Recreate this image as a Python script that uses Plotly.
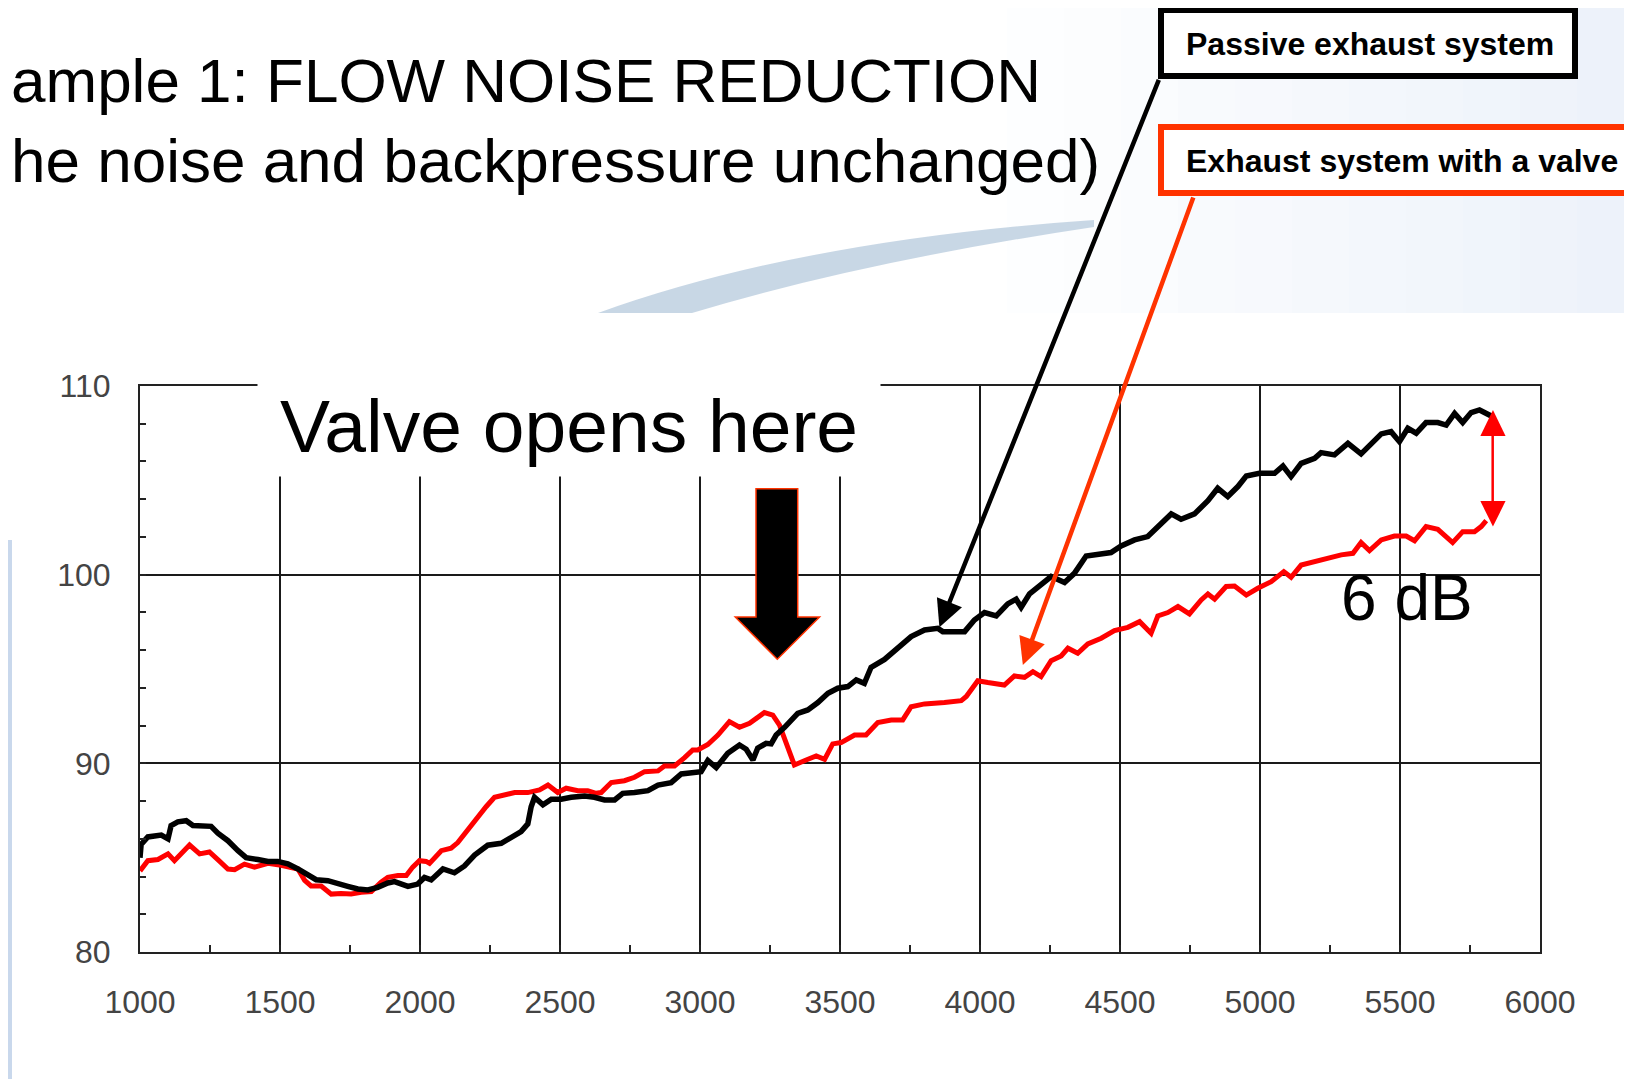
import plotly.graph_objects as go

# Passive exhaust system (black) - rpm / dB
black_rpm = [1000, 1004, 1028, 1076, 1100, 1111, 1135, 1165, 1189, 1254, 1278, 1314, 1350, 1379,
             1421, 1457, 1492, 1528, 1564, 1599, 1629, 1671, 1707, 1742, 1778, 1814, 1849, 1885,
             1909, 1933, 1957, 1992, 2016, 2040, 2082, 2123, 2159, 2195, 2242, 2290, 2326, 2361,
             2385, 2397, 2409, 2439, 2469, 2504, 2540, 2588, 2623, 2659, 2695, 2724, 2766, 2814,
             2850, 2897, 2933, 2980, 3004, 3028, 3058, 3099, 3141, 3165, 3189, 3206, 3236, 3254,
             3272, 3302, 3349, 3385, 3421, 3457, 3492, 3528, 3558, 3587, 3611, 3659, 3707, 3754,
             3802, 3849, 3867, 3945, 3980, 4016, 4058, 4099, 4129, 4147, 4177, 4218, 4254, 4302,
             4337, 4379, 4421, 4468, 4504, 4552, 4599, 4635, 4683, 4718, 4766, 4814, 4849, 4885,
             4921, 4951, 4998, 5052, 5082, 5111, 5147, 5195, 5218, 5266, 5314, 5361, 5397, 5433,
             5468, 5498, 5528, 5558, 5593, 5635, 5665, 5695, 5724, 5754, 5784, 5814, 5826]
black_db = [85.0, 85.7, 86.1, 86.2, 86.0, 86.7, 86.9, 86.96, 86.7, 86.66, 86.3, 85.9, 85.37, 85.0,
            84.9, 84.8, 84.8, 84.67, 84.4, 84.05, 83.83, 83.78, 83.6, 83.48, 83.34, 83.29, 83.43, 83.66,
            83.73, 83.6, 83.48, 83.6, 83.95, 83.82, 84.4, 84.2, 84.56, 85.14, 85.66, 85.76, 86.1, 86.38,
            86.79, 87.7, 88.2, 87.8, 88.1, 88.1, 88.2, 88.27, 88.2, 88.06, 88.06, 88.41, 88.45, 88.55,
            88.85, 88.98, 89.44, 89.51, 89.56, 90.15, 89.77, 90.53, 90.97, 90.75, 90.18, 90.8, 91.06, 91.03,
            91.5, 91.91, 92.65, 92.83, 93.22, 93.71, 93.98, 94.07, 94.42, 94.24, 95.09, 95.51, 96.15, 96.72,
            97.07, 97.16, 96.98, 96.98, 97.6, 97.99, 97.81, 98.45, 98.7, 98.27, 98.98, 99.45, 99.9, 99.58,
            100.07, 100.99, 101.1, 101.17, 101.52, 101.84, 102.02, 102.55, 103.22, 102.94, 103.22, 103.92, 104.58, 104.14,
            104.67, 105.23, 105.37, 105.37, 105.76, 105.2, 105.9, 106.17, 106.47, 106.35, 106.96, 106.4, 106.96, 107.46,
            107.58, 107.05, 107.76, 107.5, 108.06, 108.06, 107.93, 108.55, 108.06, 108.59, 108.73, 108.55, 108.41]

# Exhaust system with a valve (red)
red_rpm = [1000, 1028, 1064, 1100, 1123, 1153, 1177, 1213, 1248, 1278, 1314, 1338, 1373, 1409,
           1457, 1504, 1540, 1564, 1588, 1611, 1647, 1683, 1718, 1754, 1790, 1826, 1861, 1885,
           1921, 1951, 1974, 1998, 2022, 2034, 2076, 2111, 2135, 2171, 2201, 2236, 2266, 2302,
           2338, 2385, 2427, 2457, 2492, 2522, 2564, 2599, 2629, 2647, 2683, 2730, 2766, 2802,
           2850, 2873, 2909, 2945, 2974, 2992, 3028, 3064, 3105, 3141, 3177, 3230, 3260, 3284,
           3308, 3337, 3379, 3415, 3445, 3474, 3504, 3552, 3593, 3635, 3683, 3724, 3754, 3802,
           3873, 3933, 3951, 3992, 4028, 4087, 4123, 4159, 4189, 4218, 4254, 4290, 4314, 4349,
           4385, 4433, 4480, 4528, 4570, 4611, 4635, 4671, 4707, 4748, 4790, 4814, 4838, 4879,
           4909, 4951, 4992, 5040, 5085, 5111, 5147, 5195, 5242, 5290, 5332, 5361, 5391, 5433,
           5480, 5522, 5552, 5593, 5635, 5688, 5724, 5766, 5790, 5808]
red_db = [84.3, 84.84, 84.9, 85.2, 84.84, 85.3, 85.67, 85.2, 85.3, 84.9, 84.4, 84.36, 84.66, 84.5,
          84.7, 84.6, 84.5, 84.4, 83.8, 83.5, 83.5, 83.07, 83.1, 83.07, 83.16, 83.2, 83.7, 83.96,
          84.05, 84.05, 84.5, 84.84, 84.8, 84.7, 85.37, 85.5, 85.8, 86.47, 87.1, 87.7, 88.2, 88.32,
          88.45, 88.45, 88.59, 88.85, 88.45, 88.68, 88.55, 88.55, 88.41, 88.45, 88.98, 89.08, 89.26, 89.56,
          89.6, 89.86, 89.86, 90.3, 90.71, 90.71, 91.0, 91.5, 92.21, 91.91, 92.12, 92.69, 92.56, 92.03,
          91.03, 89.91, 90.18, 90.39, 90.21, 91.03, 91.1, 91.5, 91.5, 92.16, 92.3, 92.3, 93.0, 93.15,
          93.22, 93.32, 93.54, 94.38, 94.28, 94.15, 94.63, 94.56, 94.86, 94.6, 95.44, 95.69, 96.1, 95.83,
          96.33, 96.63, 97.03, 97.21, 97.51, 96.89, 97.81, 97.99, 98.31, 97.92, 98.66, 98.98, 98.7, 99.37,
          99.4, 98.92, 99.28, 99.63, 100.16, 99.86, 100.51, 100.69, 100.87, 101.05, 101.13, 101.7, 101.28, 101.84,
          102.05, 102.05, 101.8, 102.55, 102.4, 101.7, 102.28, 102.28, 102.55, 102.86]

x_ticks = [1000, 1500, 2000, 2500, 3000, 3500, 4000, 4500, 5000, 5500, 6000]
y_ticks = [80, 90, 100, 110]

# page layout: the figure sits 8px in from the page corner (body margin)
OFF = 8
FW, FH = 1632 - OFF, 1079 - OFF
# plot area in page pixels
L, R, T, B = 140, 1540, 386, 952
FONT = "Liberation Sans, Arial, sans-serif"


def px(x):
    return (x - L) / (R - L)


def py(y):
    return (B - y) / (B - T)


fig = go.Figure()
fig.add_trace(go.Scatter(x=red_rpm, y=red_db, mode="lines", name="Exhaust system with a valve",
                         line=dict(color="#ff0000", width=5)))
fig.add_trace(go.Scatter(x=black_rpm, y=black_db, mode="lines", name="Passive exhaust system",
                         line=dict(color="#000000", width=5.5)))

shapes = []
# slide background: soft blue fade at the top right
for i in range(12):
    shapes.append(dict(type="rect", xref="paper", yref="paper", layer="below",
                       x0=px(950 + i * 57), x1=px(950 + (i + 1) * 57), y0=py(0), y1=py(313),
                       fillcolor="rgba(225,234,246,%.3f)" % (i * 0.055), line_width=0))
swoosh = "M {},{} Q {},{} {},{} L {},{} Q {},{} {},{} Z".format(
    px(598), py(313), px(800), py(240), px(1094), py(220),
    px(1094), py(227), px(860), py(262), px(692), py(313))
shapes.append(dict(type="path", xref="paper", yref="paper", layer="below", path=swoosh,
                   fillcolor="rgba(190,208,225,0.85)", line_width=0))
shapes.append(dict(type="rect", xref="paper", yref="paper", layer="below",
                   x0=px(0), x1=px(12), y0=py(540), y1=py(1079),
                   fillcolor="#c9d8ec", line_width=0))
shapes.append(dict(type="rect", xref="paper", yref="paper", layer="below",
                   x0=px(1626), x1=px(1632), y0=py(313), y1=py(1079),
                   fillcolor="#c9d8ec", line_width=0))

# legend boxes
shapes.append(dict(type="rect", xref="paper", yref="paper",
                   x0=px(1161), x1=px(1575), y0=py(10), y1=py(76),
                   line=dict(color="#000000", width=6), fillcolor="white"))
shapes.append(dict(type="rect", xref="paper", yref="paper",
                   x0=px(1161), x1=px(1650), y0=py(127), y1=py(193),
                   line=dict(color="#ff3300", width=6), fillcolor="white"))

# big "valve opens" arrow
big_arrow = "M 3200,104.55 L 3349,104.55 L 3349,97.75 L 3427,97.75 L 3276,95.52 L 3126,97.75 L 3200,97.75 Z"
shapes.append(dict(type="path", xref="x", yref="y", path=big_arrow, fillcolor="black",
                   line=dict(color="#ff3300", width=1.5)))

# 6 dB double arrow
shapes.append(dict(type="line", xref="x", yref="y", x0=5831, x1=5831, y0=103.9, y1=107.4,
                   line=dict(color="#ff0000", width=2.5)))
shapes.append(dict(type="path", xref="x", yref="y", fillcolor="#ff0000", line_width=0,
                   path="M 5787,107.35 L 5877,107.35 L 5832,108.73 Z"))
shapes.append(dict(type="path", xref="x", yref="y", fillcolor="#ff0000", line_width=0,
                   path="M 5787,103.9 L 5877,103.9 L 5832,102.55 Z"))

annotations = [
    dict(text="ample 1: FLOW NOISE REDUCTION", xref="paper", yref="paper",
         x=px(9), y=py(81), xanchor="left", yanchor="middle", showarrow=False,
         font=dict(family=FONT, size=62, color="black")),
    dict(text="he noise and backpressure unchanged)", xref="paper", yref="paper",
         x=px(9), y=py(160), xanchor="left", yanchor="middle", showarrow=False,
         font=dict(family=FONT, size=62, color="black")),
    dict(text="<b>Passive exhaust system</b>", xref="paper", yref="paper",
         x=px(1184), y=py(44), xanchor="left", yanchor="middle", showarrow=False,
         font=dict(family=FONT, size=32, color="black")),
    dict(text="<b>Exhaust system with a valve</b>", xref="paper", yref="paper",
         x=px(1184), y=py(161), xanchor="left", yanchor="middle", showarrow=False,
         font=dict(family=FONT, size=32, color="black")),
    dict(text="Valve opens here", xref="paper", yref="paper",
         x=px(569), y=py(426), xanchor="center", yanchor="middle", showarrow=False,
         width=622, height=100, bgcolor="white", borderpad=0,
         font=dict(family=FONT, size=75, color="black")),
    dict(text="6 dB", xref="paper", yref="paper",
         x=px(1407), y=py(598), xanchor="center", yanchor="middle", showarrow=False,
         font=dict(family=FONT, size=64, color="black")),
    # leader arrows from the legend boxes to the curves
    dict(text="", x=3855, y=97.21, xref="x", yref="y", ax=220, ay=-549,
         showarrow=True, arrowhead=2, arrowsize=1.2, arrowwidth=4.5, arrowcolor="black", standoff=0),
    dict(text="", x=4153, y=95.21, xref="x", yref="y", ax=171, ay=-469,
         showarrow=True, arrowhead=2, arrowsize=1.2, arrowwidth=4.5, arrowcolor="#ff3300", standoff=0),
]

axis_font = dict(family=FONT, size=32, color="#444444")
fig.update_layout(
    width=FW, height=FH,
    margin=dict(l=L - OFF, r=FW - (R - OFF), t=T - OFF, b=FH - (B - OFF), pad=0),
    paper_bgcolor="white", plot_bgcolor="white",
    showlegend=False,
    shapes=shapes,
    annotations=annotations,
    xaxis=dict(range=[1000, 6000], tickvals=x_ticks, ticks="inside", ticklen=7, tickwidth=2,
               tickcolor="#222", showgrid=True, gridcolor="#1a1a1a", gridwidth=2,
               showline=True, linecolor="#222", linewidth=2, mirror=True,
               tickfont=axis_font, ticklabelstandoff=21, zeroline=False,
               minor=dict(dtick=250, ticks="inside", ticklen=7, tickwidth=2, tickcolor="#222",
                          showgrid=False)),
    yaxis=dict(range=[80, 110], tickvals=y_ticks, ticks="inside", ticklen=6, tickwidth=2,
               tickcolor="#222", showgrid=True, gridcolor="#1a1a1a", gridwidth=2,
               showline=True, linecolor="#222", linewidth=2, mirror=True,
               tickfont=axis_font, ticklabelstandoff=21, zeroline=False,
               minor=dict(dtick=2, ticks="inside", ticklen=6, tickwidth=2, tickcolor="#222",
                          showgrid=False)),
)

fig.write_html("out.html")
